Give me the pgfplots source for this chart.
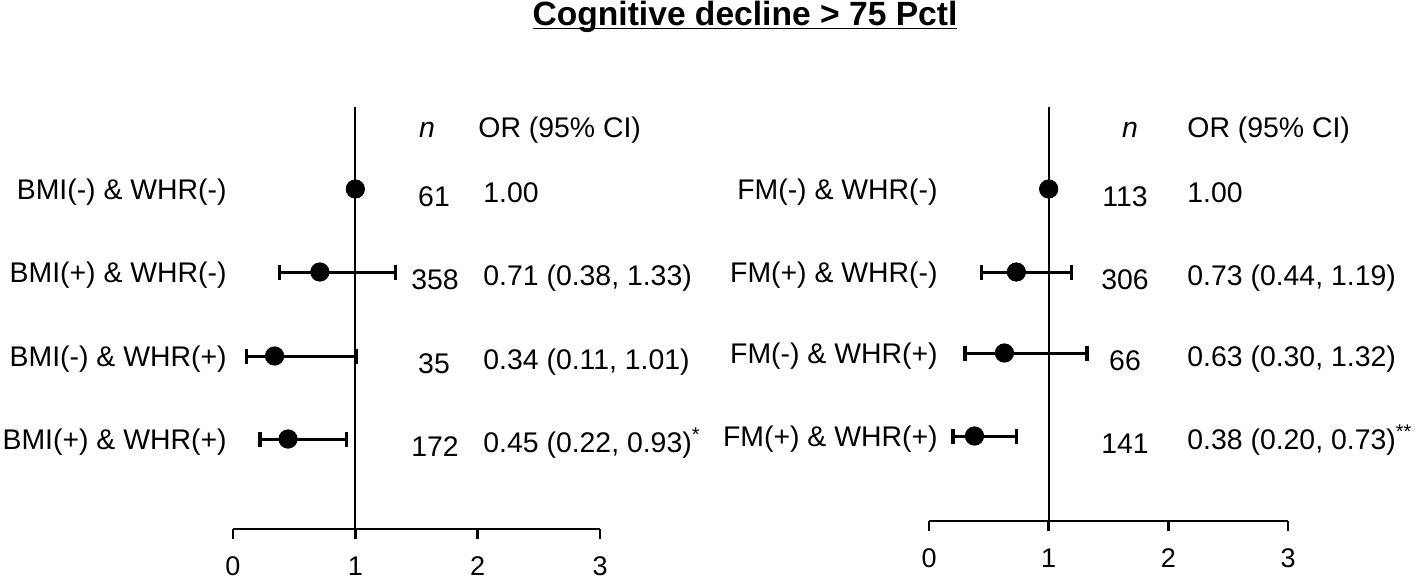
\documentclass[border=0pt]{standalone}
\usepackage{pgfplots}
\usepackage{pgfplotstable}
\pgfplotsset{compat=1.18}
\usepackage{fontspec}
\setmainfont{Liberation Sans}

% columns: or = odds ratio, em/ep = distance to lower/upper CI, y = row position
\pgfplotstableread{
or   em    ep    y
1.00 0.00  0.00  394
0.71 0.33  0.62  311
0.34 0.23  0.67  227
0.45 0.23  0.48  144
}\leftdata
\pgfplotstableread{
or   em    ep    y
1.00 0.00  0.00  394
0.73 0.29  0.46  311
0.63 0.33  0.69  230
0.38 0.18  0.35  147
}\rightdata

\pgfplotsset{
  forest/.style={
    scale only axis,
    xmin=0, xmax=3, ymax=476,
    clip=false,
    axis x line*=bottom,
    axis y line=none,
    axis line style={-, line width=1.4pt, black},
    xtick={0,1,2,3},
    tick align=outside,
    major tick length=5pt,
    every tick/.style={line width=1.4pt, black},
    xticklabel style={font=\fontsize{13.5pt}{16pt}\selectfont, yshift=-5.5pt},
    /pgf/number format/assume math mode=true,
  },
  fp/.style={
    only marks, mark=*, mark size=4.6pt, black,
    mark options={fill=black, draw=black},
    error bars/.cd, x dir=both, x explicit,
    error mark=|,
    error bar style={line width=1.5pt, black},
    error mark options={line width=1.6pt, mark size=3.75pt, black},
  },
}

\begin{document}
\begin{tikzpicture}
\useasboundingbox (0pt,0pt) rectangle (708pt,-291.5pt);

% left panel
\begin{axis}[forest, ymin=54, height=211pt, width=183.5pt, at={(116.5pt,-264.5pt)}, anchor=south west]
  \draw[line width=1.05pt] (axis cs:1,54) -- (axis cs:1,476);
  \addplot+[fp] table[x=or, y=y, x error minus=em, x error plus=ep] {\leftdata};
\end{axis}

% right panel
\begin{axis}[forest, ymin=62, height=207pt, width=179.5pt, at={(464.5pt,-260.5pt)}, anchor=south west]
  \draw[line width=1.05pt] (axis cs:1,62) -- (axis cs:1,476);
  \addplot+[fp] table[x=or, y=y, x error minus=em, x error plus=ep] {\rightdata};
\end{axis}

\begin{scope}[x=0.5pt, y=-0.5pt, every node/.style={font=\fontsize{14.2pt}{17pt}\selectfont, inner sep=0pt}]
  % title
  \node[font=\fontsize{16.8pt}{20pt}\selectfont\bfseries] at (745,17) {Cognitive decline > 75 Pctl};
  \draw[line width=0.8pt] (533,28.5) -- (957,28.5);

  % left headers
  \node[anchor=base] at (427,137) {\textit{n}};
  \node[anchor=base west] at (478,137) {OR (95\% CI)};
  % left labels
  \node[anchor=base east] at (227,199) {BMI(-) \& WHR(-)};
  \node[anchor=base east] at (227,282) {BMI(+) \& WHR(-)};
  \node[anchor=base east] at (227,366) {BMI(-) \& WHR(+)};
  \node[anchor=base east] at (227,449) {BMI(+) \& WHR(+)};
  % left n
  \node[anchor=base] at (434,206) {61};
  \node[anchor=base] at (435,289) {358};
  \node[anchor=base] at (434,373) {35};
  \node[anchor=base] at (435,456) {172};
  % left OR
  \node[anchor=base west] at (483,202) {1.00};
  \node[anchor=base west] at (483,285) {0.71 (0.38, 1.33)};
  \node[anchor=base west] at (483,369) {0.34 (0.11, 1.01)};
  \node[anchor=base west] at (483,452) {0.45 (0.22, 0.93)\textsuperscript{*}};

  % right headers
  \node[anchor=base] at (1130,137) {\textit{n}};
  \node[anchor=base west] at (1187,137) {OR (95\% CI)};
  % right labels
  \node[anchor=base east] at (938,199) {FM(-) \& WHR(-)};
  \node[anchor=base east] at (938,282) {FM(+) \& WHR(-)};
  \node[anchor=base east] at (938,363) {FM(-) \& WHR(+)};
  \node[anchor=base east] at (938,446) {FM(+) \& WHR(+)};
  % right n
  \node[anchor=base] at (1125,206) {113};
  \node[anchor=base] at (1125,289) {306};
  \node[anchor=base] at (1125,370) {66};
  \node[anchor=base] at (1125,453) {141};
  % right OR
  \node[anchor=base west] at (1187,202) {1.00};
  \node[anchor=base west] at (1187,285) {0.73 (0.44, 1.19)};
  \node[anchor=base west] at (1187,366) {0.63 (0.30, 1.32)};
  \node[anchor=base west] at (1187,449) {0.38 (0.20, 0.73)\textsuperscript{**}};
\end{scope}
\end{tikzpicture}
\end{document}
